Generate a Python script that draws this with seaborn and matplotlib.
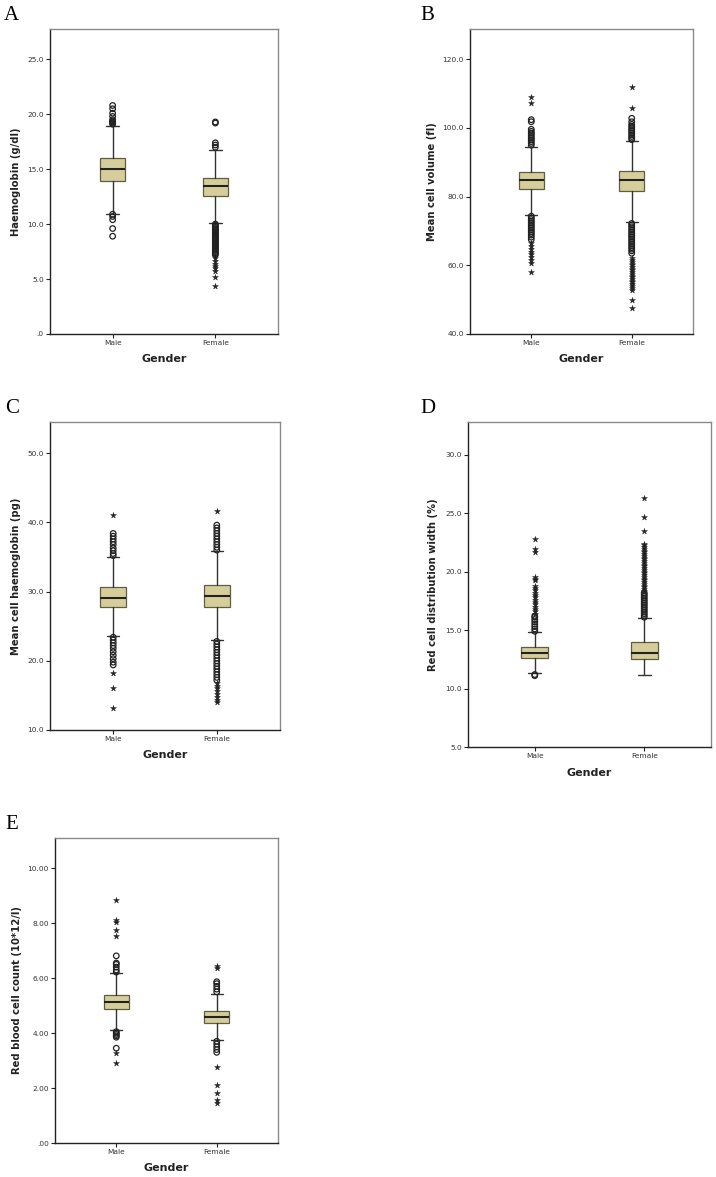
import matplotlib.pyplot as plt
import numpy as np
import pandas as pd
import seaborn as sns
from matplotlib.ticker import FuncFormatter

genders = ['Male', 'Female']

# box summaries: [whisker low, Q1, median, Q3, whisker high]
hb_box = [[10.9, 13.9, 15.05, 16.0, 18.95], [10.1, 12.55, 13.45, 14.2, 16.75]]
hb_circles = [[19.1, 19.2, 19.3, 19.4, 19.5, 19.8, 20.1, 20.5, 20.8,
               10.9, 10.7, 10.4, 9.6, 8.9],
              [19.2, 19.3, 17.4, 17.2, 17.0,
               10.0, 9.9, 9.8, 9.7, 9.6, 9.5, 9.4, 9.3, 9.2, 9.1, 9.0, 8.9,
               8.8, 8.7, 8.6, 8.5, 8.4, 8.3, 8.2, 8.1, 8.0, 7.9, 7.8, 7.7,
               7.6, 7.5, 7.4, 7.3, 7.2]]
hb_stars = [[], [6.9, 6.6, 6.4, 6.2, 6.0, 5.7, 5.2, 4.4]]

mcv_box = [[74.6, 82.2, 84.8, 87.3, 94.5], [72.5, 81.5, 84.8, 87.6, 96.2]]
mcv_circles = [[95.0, 95.5, 96.0, 96.5, 97.0, 97.5, 98.0, 98.5, 99.0, 99.6,
                101.8, 102.4,
                74.3, 73.8, 73.3, 72.8, 72.3, 71.8, 71.3, 70.8, 70.3, 69.8,
                69.3, 68.8, 68.2, 67.5],
               [96.6, 97.0, 97.5, 98.0, 98.5, 99.0, 99.5, 100.0, 100.5,
                101.0, 101.8, 102.8,
                72.2, 71.7, 71.2, 70.7, 70.2, 69.7, 69.2, 68.7, 68.2, 67.7,
                67.2, 66.7, 66.2, 65.7, 65.2, 64.7, 64.2, 63.5]]
mcv_stars = [[107.4, 108.9, 66.4, 65.6, 64.8, 64.0, 63.2, 62.4, 61.6, 60.8,
              58.1],
             [105.7, 111.8, 62.0, 61.5, 61.0, 60.5, 60.0, 59.5, 59.0, 58.5,
              58.0, 57.5, 57.0, 56.5, 56.0, 55.5, 55.0, 54.5, 54.0, 53.5,
              52.8, 49.9, 47.5]]

mch_box = [[23.6, 27.8, 29.1, 30.7, 35.0], [23.0, 27.8, 29.3, 30.9, 35.9]]
mch_circles = [[35.2, 35.5, 35.9, 36.3, 36.8, 37.2, 37.6, 38.0, 38.4,
                23.4, 23.0, 22.6, 22.2, 21.8, 21.3, 20.8, 20.3, 19.8, 19.4],
               [36.0, 36.4, 36.8, 37.2, 37.6, 38.0, 38.4, 38.8, 39.2, 39.6,
                22.8, 22.4, 22.0, 21.6, 21.2, 20.8, 20.4, 20.0, 19.6, 19.2,
                18.8, 18.4, 18.0, 17.6, 17.2]]
mch_stars = [[41.0, 18.2, 16.0, 13.2],
             [41.7, 16.8, 16.4, 16.0, 15.6, 15.2, 14.8, 14.4, 14.1]]

rdw_box = [[11.36, 12.64, 13.07, 13.55, 14.8], [11.15, 12.56, 13.07, 13.97, 16.06]]
rdw_circles = [[14.9, 15.1, 15.3, 15.5, 15.7, 15.9, 16.1, 16.2, 11.2, 11.1],
               [16.1, 16.25, 16.4, 16.55, 16.7, 16.85, 17.0, 17.15, 17.3,
                17.45, 17.6, 17.75, 17.9, 18.05, 18.2]]
rdw_stars = [[16.4, 16.6, 16.8, 17.0, 17.2, 17.4, 17.6, 17.8, 18.0, 18.2,
              18.4, 18.6, 18.8, 19.3, 19.4, 19.5, 21.7, 21.9, 22.8],
             [18.35, 18.5, 18.65, 18.8, 18.95, 19.1, 19.25, 19.4, 19.55,
              19.7, 19.85, 20.0, 20.15, 20.3, 20.45, 20.6, 20.75, 20.9,
              21.05, 21.2, 21.35, 21.5, 21.65, 21.8, 21.95, 22.1, 22.25,
              22.4, 23.5, 24.7, 26.3]]

rbc_box = [[4.11, 4.88, 5.12, 5.39, 6.18], [3.75, 4.38, 4.59, 4.80, 5.42]]
rbc_circles = [[6.22, 6.3, 6.4, 6.5, 6.55, 6.81, 4.05, 4.0, 3.95, 3.9, 3.85,
                3.45],
               [5.5, 5.6, 5.7, 5.8, 5.87, 3.7, 3.6, 3.5, 3.4, 3.3]]
rbc_stars = [[7.55, 7.75, 8.05, 8.1, 8.85, 3.27, 2.92],
             [6.38, 6.44, 2.78, 2.11, 1.81, 1.57, 1.45]]

sns.set_style('ticks')
plt.rcParams['font.family'] = ['DejaVu Sans']

BOX_FACE = '#d5ce9b'
BOX_EDGE = '#5f5c40'
INK = '#222222'

W, H = 716, 1177


def px_axes(fig, left, top, right, bottom):
    return fig.add_axes([left / W, 1 - bottom / H, (right - left) / W,
                         (bottom - top) / H])


def plot_panel(ax, boxes, circles, stars, ylim, yticks, decimals, ylabel,
               ylab_x):
    stats = []
    for b in boxes:
        stats.append(dict(whislo=b[0], q1=b[1], med=b[2], q3=b[3],
                          whishi=b[4], fliers=[]))
    ax.bxp(stats, positions=[0, 1], widths=0.25, capwidths=0.12,
           patch_artist=True, showfliers=False,
           boxprops=dict(facecolor=BOX_FACE, edgecolor=BOX_EDGE, lw=0.9),
           medianprops=dict(color=INK, lw=1.5),
           whiskerprops=dict(color='#333333', lw=1.0),
           capprops=dict(color='#333333', lw=1.0))

    circ = pd.DataFrame({'pos': np.repeat([0, 1], [len(c) for c in circles]),
                         'value': np.concatenate(circles)})
    sns.scatterplot(data=circ, x='pos', y='value', marker='o', s=16,
                    facecolor='none', edgecolor=INK, linewidth=0.9,
                    ax=ax, zorder=3, legend=False)
    st = pd.DataFrame({'pos': np.repeat([0, 1], [len(c) for c in stars]),
                       'value': np.concatenate([np.asarray(c, float) for c in stars])})
    if len(st):
        sns.scatterplot(data=st, x='pos', y='value', marker='*', s=20,
                        color=INK, edgecolor=INK, linewidth=0.3,
                        ax=ax, zorder=3, legend=False)

    ax.set_xlim(-0.61, 1.61)
    ax.set_ylim(*ylim)
    ax.set_xticks([0, 1])
    ax.set_xticklabels(genders)
    ax.set_yticks(yticks)

    def fmt(v, pos):
        s = f'{v:.{decimals}f}'
        return s[1:] if s.startswith('0') else s
    ax.yaxis.set_major_formatter(FuncFormatter(fmt))

    ax.tick_params(axis='both', length=3, width=0.8, pad=1.5, labelsize=5.3,
                   color=INK, labelcolor='#333333')
    for side in ['left', 'bottom']:
        ax.spines[side].set_color(INK)
        ax.spines[side].set_linewidth(1.0)
    for side in ['top', 'right']:
        ax.spines[side].set_visible(True)
        ax.spines[side].set_color('#8a8a8a')
        ax.spines[side].set_linewidth(1.0)

    ax.set_xlabel('Gender', fontsize=8, fontweight='bold', color=INK)
    ax.set_ylabel(ylabel, fontsize=7.2, fontweight='bold', color=INK)
    ax.xaxis.set_label_coords(0.5, -0.064)
    ax.yaxis.set_label_coords(ylab_x, 0.5)
    return ax


fig = plt.figure(figsize=(W / 100, H / 100), dpi=100)

axA = px_axes(fig, 50, 29, 278, 334)
plot_panel(axA, hb_box, hb_circles, hb_stars, (0, 27.76),
           [0, 5, 10, 15, 20, 25], 1, 'Haemoglobin (g/dl)', (21 - 50) / 228)

axB = px_axes(fig, 470, 29, 693, 334)
plot_panel(axB, mcv_box, mcv_circles, mcv_stars, (40, 128.8),
           [40, 60, 80, 100, 120], 1, 'Mean cell volume (fl)',
           (437 - 470) / 223)

axC = px_axes(fig, 50, 422, 280, 730)
plot_panel(axC, mch_box, mch_circles, mch_stars, (10, 54.5),
           [10, 20, 30, 40, 50], 1, 'Mean cell haemoglobin (pg)',
           (21 - 50) / 230)

axD = px_axes(fig, 468, 422, 711, 747)
plot_panel(axD, rdw_box, rdw_circles, rdw_stars, (5, 32.8),
           [5, 10, 15, 20, 25, 30], 1, 'Red cell distribution width (%)',
           (438 - 468) / 243)

axE = px_axes(fig, 55, 838, 278, 1143)
plot_panel(axE, rbc_box, rbc_circles, rbc_stars, (0, 11.1),
           [0, 2, 4, 6, 8, 10], 2, 'Red blood cell count (10*12/l)',
           (22 - 55) / 223)

letters = [('A', 4, 20), ('B', 420, 20), ('C', 5, 413), ('D', 420, 413),
           ('E', 5, 829)]
for lab, x, y in letters:
    fig.text(x / W, 1 - y / H, lab, family='Liberation Serif', fontsize=15,
             va='baseline', ha='left', color='black')

fig.savefig('out.png', dpi=100)
